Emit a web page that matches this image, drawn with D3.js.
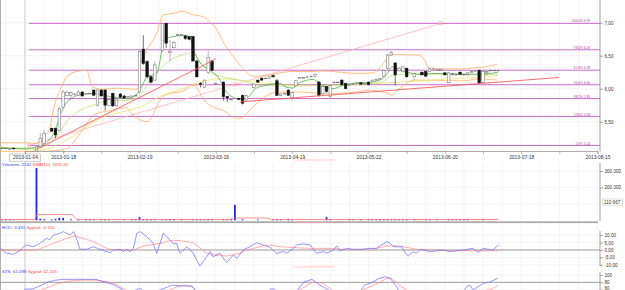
<!DOCTYPE html>
<html>
<head>
<meta charset="utf-8">
<script src="https://cdn.jsdelivr.net/npm/d3@7"></script>
<style>
	body { margin: 0; background: #fff; }
	svg { display: block; font-family: "Liberation Sans", Arial, sans-serif; }
</style>
</head>
<body>
<svg id="chart" width="625" height="290"></svg>
<script>
	// x axis: bar index, labels every 20 sessions
	let dateIdx = [ 0, 10, 30, 50, 70, 90, 110, 130, 150 ];
	let dates = [ '2013-01-04', '2013-01-18', '2013-02-19', '2013-03-19', '2013-04-19', '2013-05-22', '2013-06-20', '2013-07-18', '2013-08-15' ];

	// [ idx, open, high, low, close ]
	let candles = [
		[ -6, 5.10, 5.11, 5.09, 5.10 ], [ -5, 5.10, 5.11, 5.09, 5.10 ], [ -4, 5.09, 5.10, 5.08, 5.09 ], [ -3, 5.10, 5.10, 5.08, 5.09 ],
		[ 3, 5.05, 5.13, 5.04, 5.12 ], [ 4, 5.12, 5.33, 5.11, 5.25 ], [ 5, 5.17, 5.37, 5.16, 5.32 ], [ 7, 5.40, 5.41, 5.35, 5.355 ],
		[ 8, 5.40, 5.41, 5.25, 5.30 ], [ 9, 5.37, 5.72, 5.36, 5.70 ], [ 10, 5.72, 5.98, 5.71, 5.95 ], [ 11, 5.90, 5.96, 5.89, 5.95 ],
		[ 12, 5.90, 5.95, 5.83, 5.94 ], [ 13, 5.91, 5.93, 5.90, 5.92 ], [ 14, 5.90, 5.98, 5.89, 5.95 ], [ 15, 5.95, 5.96, 5.88, 5.89 ],
		[ 16, 5.92, 5.93, 5.91, 5.92 ], [ 17, 5.93, 5.94, 5.92, 5.93 ], [ 18, 5.98, 5.99, 5.90, 5.90 ], [ 19, 5.75, 5.99, 5.73, 5.98 ],
		[ 20, 5.98, 5.99, 5.88, 5.89 ], [ 21, 5.98, 5.99, 5.67, 5.75 ], [ 22, 5.75, 5.85, 5.74, 5.84 ], [ 23, 5.93, 5.94, 5.72, 5.74 ],
		[ 24, 5.74, 5.84, 5.73, 5.83 ], [ 25, 5.92, 5.93, 5.86, 5.87 ], [ 26, 5.89, 5.90, 5.85, 5.86 ], [ 27, 5.87, 5.88, 5.87, 5.88 ],
		[ 28, 5.88, 5.89, 5.87, 5.89 ], [ 29, 5.90, 5.91, 5.89, 5.90 ], [ 30, 5.95, 6.58, 5.93, 6.56 ], [ 31, 6.60, 6.81, 6.36, 6.38 ],
		[ 32, 6.41, 6.43, 6.15, 6.18 ], [ 33, 6.18, 6.20, 6.08, 6.10 ], [ 34, 6.13, 6.41, 6.12, 6.36 ], [ 36, 6.58, 6.99, 6.55, 6.99 ],
		[ 37, 6.99, 6.99, 6.62, 6.69 ], [ 38, 6.55, 6.74, 6.42, 6.57 ], [ 39, 6.62, 6.72, 6.61, 6.70 ], [ 40, 6.81, 6.83, 6.80, 6.82 ],
		[ 41, 6.81, 6.83, 6.80, 6.82 ], [ 42, 6.80, 6.81, 6.74, 6.76 ], [ 43, 6.79, 6.80, 6.74, 6.75 ], [ 44, 6.79, 6.80, 6.41, 6.42 ],
		[ 45, 6.42, 6.43, 6.17, 6.18 ], [ 46, 6.08, 6.10, 6.02, 6.07 ], [ 47, 6.02, 6.14, 6.01, 6.13 ], [ 48, 6.25, 6.57, 6.22, 6.47 ],
		[ 49, 6.42, 6.43, 6.27, 6.28 ], [ 50, 6.07, 6.09, 6.06, 6.08 ], [ 52, 6.10, 6.11, 5.82, 5.88 ], [ 53, 5.88, 5.89, 5.80, 5.86 ],
		[ 54, 5.84, 5.85, 5.83, 5.84 ], [ 56, 5.85, 5.86, 5.83, 5.84 ], [ 57, 5.90, 5.91, 5.76, 5.78 ], [ 58, 5.83, 5.91, 5.82, 5.90 ],
		[ 60, 6.02, 6.08, 6.01, 6.07 ], [ 61, 6.13, 6.14, 6.09, 6.10 ], [ 62, 6.16, 6.17, 6.12, 6.13 ], [ 63, 6.16, 6.17, 6.15, 6.16 ],
		[ 64, 6.16, 6.19, 6.15, 6.18 ], [ 65, 6.20, 6.21, 6.17, 6.18 ], [ 66, 6.12, 6.15, 5.89, 5.90 ], [ 67, 5.90, 5.93, 5.89, 5.92 ],
		[ 68, 5.93, 5.94, 5.92, 5.93 ], [ 69, 5.98, 5.99, 5.89, 5.90 ], [ 70, 5.86, 5.95, 5.83, 5.94 ], [ 71, 6.05, 6.13, 6.04, 6.12 ],
		[ 72, 6.17, 6.18, 6.16, 6.17 ], [ 73, 6.17, 6.18, 6.16, 6.17 ], [ 74, 6.18, 6.19, 6.17, 6.18 ], [ 75, 6.19, 6.20, 6.18, 6.19 ],
		[ 76, 6.19, 6.23, 6.18, 6.22 ], [ 77, 6.10, 6.12, 5.88, 5.90 ], [ 78, 5.92, 6.04, 5.91, 6.03 ], [ 79, 6.03, 6.04, 5.94, 5.96 ],
		[ 80, 5.88, 6.06, 5.86, 6.05 ], [ 81, 6.10, 6.11, 6.09, 6.10 ], [ 82, 6.10, 6.11, 6.09, 6.10 ], [ 83, 6.13, 6.14, 6.05, 6.06 ],
		[ 84, 6.08, 6.09, 5.99, 6.00 ], [ 85, 6.06, 6.07, 6.05, 6.06 ], [ 86, 6.07, 6.09, 6.06, 6.08 ], [ 87, 6.09, 6.10, 6.08, 6.09 ],
		[ 88, 6.09, 6.10, 6.06, 6.07 ], [ 89, 6.08, 6.09, 6.07, 6.08 ], [ 90, 6.10, 6.11, 6.05, 6.06 ], [ 91, 6.11, 6.14, 6.10, 6.13 ],
		[ 92, 6.14, 6.15, 6.13, 6.14 ], [ 93, 6.15, 6.16, 6.14, 6.15 ], [ 94, 6.18, 6.29, 6.17, 6.28 ], [ 95, 6.31, 6.53, 6.30, 6.51 ],
		[ 96, 6.51, 6.57, 6.50, 6.55 ], [ 97, 6.39, 6.40, 6.05, 6.21 ], [ 98, 6.27, 6.33, 6.26, 6.31 ], [ 99, 6.26, 6.34, 6.25, 6.33 ],
		[ 100, 6.31, 6.32, 6.17, 6.18 ], [ 102, 6.18, 6.25, 6.13, 6.23 ], [ 104, 6.25, 6.26, 6.20, 6.21 ], [ 105, 6.26, 6.27, 6.18, 6.19 ],
		[ 106, 6.26, 6.31, 6.25, 6.30 ], [ 107, 6.30, 6.31, 6.29, 6.30 ], [ 108, 6.29, 6.30, 6.28, 6.29 ], [ 109, 6.29, 6.30, 6.28, 6.29 ],
		[ 110, 6.24, 6.25, 6.20, 6.21 ], [ 111, 6.09, 6.25, 6.08, 6.24 ], [ 112, 6.22, 6.24, 6.19, 6.23 ], [ 113, 6.21, 6.23, 6.20, 6.22 ],
		[ 114, 6.25, 6.26, 6.21, 6.22 ], [ 115, 6.21, 6.23, 6.20, 6.22 ], [ 116, 6.22, 6.25, 6.19, 6.24 ], [ 117, 6.26, 6.27, 6.25, 6.26 ],
		[ 118, 6.27, 6.28, 6.26, 6.27 ], [ 119, 6.28, 6.29, 6.07, 6.09 ], [ 120, 6.09, 6.28, 6.08, 6.26 ], [ 121, 6.24, 6.28, 6.20, 6.26 ],
		[ 122, 6.28, 6.29, 6.27, 6.28 ], [ 123, 6.28, 6.29, 6.27, 6.28 ], [ 124, 6.28, 6.29, 6.27, 6.28 ]
	];

	// fibonacci retracement
	let fibPct = [ '100.0%', '78.6%', '61.8%', '50.0%', '38.2%', '23.6%', '0.0%' ];
	let fibVal = [ 6.99, 6.59, 6.28, 6.06, 5.85, 5.58, 5.14 ];
	let fibDiag = [ [ 1, 5.14 ], [ 55, 6.065 ], [ 109, 6.99 ] ];
	let trendRed = [ [ [ 2.6, 5.07 ], [ 50, 6.45 ] ], [ [ 56.3, 5.80 ], [ 139.9, 6.17 ] ] ];

	// overlays [ idx, value ]
	let smaFast = [ [ -6.5, 5.10 ], [ 0, 5.09 ], [ 3.4, 5.12 ], [ 5.7, 5.19 ], [ 7.9, 5.37 ], [ 9.2, 5.60 ], [ 10.9, 5.79 ], [ 12.7, 5.87 ], [ 13.5, 5.90 ], [ 17.9, 5.93 ], [ 22.3, 5.88 ], [ 26.6, 5.85 ], [ 29.6, 5.93 ], [ 30.6, 6.03 ], [ 31.9, 6.18 ], [ 34.5, 6.23 ], [ 35.4, 6.43 ], [ 36.2, 6.72 ], [ 38.8, 6.79 ], [ 42.4, 6.81 ], [ 43.2, 6.77 ], [ 44.5, 6.54 ], [ 45.9, 6.39 ], [ 48.5, 6.28 ], [ 51.1, 6.13 ], [ 52.4, 5.98 ], [ 53.7, 5.90 ], [ 55.5, 5.85 ], [ 57.1, 5.84 ], [ 59, 5.90 ], [ 60.3, 6.00 ], [ 62.9, 6.05 ], [ 66.8, 6.08 ], [ 68.6, 6.02 ], [ 70.2, 6.01 ], [ 72, 6.09 ], [ 75.5, 6.14 ], [ 76.8, 6.10 ], [ 79.1, 6.02 ], [ 80.7, 6.00 ], [ 83.3, 6.05 ], [ 85.9, 6.08 ], [ 89.6, 6.09 ], [ 93, 6.13 ], [ 94.8, 6.22 ], [ 96.2, 6.33 ], [ 97.5, 6.31 ], [ 99, 6.26 ], [ 100.9, 6.24 ], [ 103, 6.22 ], [ 106.6, 6.23 ], [ 110, 6.23 ], [ 113.4, 6.22 ], [ 117.1, 6.22 ], [ 119.7, 6.22 ], [ 123.9, 6.25 ] ];
	let smaMid = [ [ -6.5, 5.11 ], [ 3, 5.10 ], [ 5.7, 5.14 ], [ 9.2, 5.35 ], [ 10.9, 5.50 ], [ 14.4, 5.67 ], [ 17.9, 5.75 ], [ 22.3, 5.82 ], [ 26, 5.82 ], [ 28.3, 5.84 ], [ 30.1, 5.90 ], [ 33.3, 6.16 ], [ 36.2, 6.34 ], [ 38.8, 6.46 ], [ 42.4, 6.53 ], [ 43.8, 6.55 ], [ 45.9, 6.40 ], [ 48.5, 6.25 ], [ 51.1, 6.19 ], [ 54.5, 6.15 ], [ 57.6, 6.11 ], [ 61.5, 6.05 ], [ 66.8, 6.04 ], [ 72, 6.04 ], [ 77.3, 6.05 ], [ 82.5, 6.05 ], [ 87.8, 6.07 ], [ 93, 6.09 ], [ 96.2, 6.20 ], [ 99.5, 6.22 ], [ 106.6, 6.22 ], [ 115, 6.21 ], [ 123.9, 6.22 ] ];
	let smaSlow = [ [ -6.5, 5.12 ], [ 4, 5.07 ], [ 9.2, 5.17 ], [ 14.4, 5.35 ], [ 19.7, 5.55 ], [ 24.9, 5.64 ], [ 30.1, 5.72 ], [ 35.4, 5.88 ], [ 40.6, 5.99 ], [ 45.9, 6.10 ], [ 51.1, 6.15 ], [ 57.6, 6.12 ], [ 63.4, 6.08 ], [ 72, 6.05 ], [ 80.7, 6.05 ], [ 89.6, 6.07 ], [ 98.3, 6.10 ], [ 106.6, 6.13 ], [ 115.3, 6.16 ], [ 123.9, 6.20 ] ];
	let bbUp = [ [ -6.5, 5.18 ], [ 0, 5.18 ], [ 3, 5.17 ], [ 4.8, 5.27 ], [ 6.5, 5.40 ], [ 7.4, 5.67 ], [ 9.6, 6.03 ], [ 10.9, 6.18 ], [ 13.5, 6.26 ], [ 16.2, 6.28 ], [ 17, 6.13 ], [ 17.9, 6.02 ], [ 20.5, 5.99 ], [ 24, 6.01 ], [ 28.4, 5.99 ], [ 29.6, 6.00 ], [ 30.1, 6.33 ], [ 31.9, 6.58 ], [ 34.5, 6.84 ], [ 36.2, 7.12 ], [ 38.9, 7.14 ], [ 41.1, 7.17 ], [ 44.1, 7.12 ], [ 46.7, 7.09 ], [ 48.5, 7.01 ], [ 50.3, 6.89 ], [ 51.9, 6.71 ], [ 54.5, 6.49 ], [ 57.1, 6.31 ], [ 59.7, 6.19 ], [ 63.4, 6.20 ], [ 66.8, 6.24 ], [ 69.4, 6.26 ], [ 75.5, 6.26 ], [ 77.3, 6.27 ], [ 80.7, 6.26 ], [ 84.4, 6.24 ], [ 87.8, 6.23 ], [ 91.2, 6.24 ], [ 93.8, 6.38 ], [ 95.6, 6.51 ], [ 98.3, 6.52 ], [ 100.9, 6.51 ], [ 103, 6.51 ], [ 104.8, 6.42 ], [ 105.6, 6.32 ], [ 110, 6.30 ], [ 114.5, 6.30 ], [ 117.9, 6.32 ], [ 120.5, 6.33 ], [ 123.7, 6.37 ] ];
	let bbLow = [ [ -6.5, 5.05 ], [ 4.7, 5.05 ], [ 10.9, 5.09 ], [ 14.4, 5.32 ], [ 16.2, 5.47 ], [ 17.9, 5.60 ], [ 22.3, 5.67 ], [ 26.6, 5.71 ], [ 28.3, 5.60 ], [ 30.1, 5.53 ], [ 31.9, 5.50 ], [ 33.3, 5.58 ], [ 34.6, 5.75 ], [ 36.2, 5.88 ], [ 38, 5.93 ], [ 40.6, 5.95 ], [ 42.4, 6.00 ], [ 43.8, 6.05 ], [ 45, 6.02 ], [ 46.6, 5.85 ], [ 48.5, 5.75 ], [ 50.3, 5.70 ], [ 51.9, 5.67 ], [ 53.7, 5.60 ], [ 55.5, 5.55 ], [ 57.1, 5.57 ], [ 59, 5.68 ], [ 61.6, 5.82 ], [ 64.2, 5.92 ], [ 66.8, 5.95 ], [ 72, 5.95 ], [ 77.3, 5.93 ], [ 82.5, 5.93 ], [ 87, 5.95 ], [ 90.4, 5.98 ], [ 92.5, 5.96 ], [ 95.1, 5.93 ], [ 96.2, 5.90 ], [ 97, 5.95 ], [ 98.8, 6.03 ], [ 100.3, 6.10 ], [ 102.2, 6.13 ], [ 106.6, 6.13 ], [ 110.8, 6.12 ], [ 115.3, 6.12 ], [ 118.7, 6.15 ], [ 123.7, 6.13 ] ];

	// volume [ idx, shares ]
	let volume = [ [ -6, 5000 ], [ -5, 5000 ], [ -4, 5000 ], [ -3, 5000 ], [ 3, 318000 ], [ 4, 9000 ], [ 5, 6000 ], [ 7, 5000 ], [ 8, 9000 ], [ 9, 15000 ], [ 10, 15000 ], [ 12, 6000 ], [ 14, 5000 ], [ 16, 6000 ], [ 17, 6000 ], [ 18, 6000 ], [ 20, 5000 ], [ 21, 6000 ], [ 22, 6000 ], [ 26, 5000 ], [ 28, 6000 ], [ 29, 6000 ], [ 30, 19000 ], [ 31, 7000 ], [ 32, 6000 ], [ 33, 6000 ], [ 34, 6000 ], [ 36, 6000 ], [ 37, 6000 ], [ 38, 8000 ], [ 39, 6000 ], [ 41, 6000 ], [ 44, 5000 ], [ 45, 6000 ], [ 46, 6000 ], [ 47, 5000 ], [ 48, 8000 ], [ 49, 6000 ], [ 52, 6000 ], [ 53, 6000 ], [ 54, 9000 ], [ 55, 94000 ], [ 57, 6000 ], [ 61, 5000 ], [ 65, 5000 ], [ 66, 6000 ], [ 67, 6000 ], [ 69, 9000 ], [ 70, 6000 ], [ 79, 19000 ], [ 80, 6000 ], [ 85, 5000 ], [ 86, 5000 ], [ 88, 5000 ], [ 90, 6000 ], [ 91, 6000 ], [ 92, 6000 ], [ 93, 7000 ], [ 94, 8000 ], [ 95, 7000 ], [ 96, 6000 ], [ 97, 6000 ], [ 98, 6000 ], [ 99, 5000 ], [ 100, 6000 ], [ 102, 6000 ], [ 105, 5000 ], [ 106, 5000 ], [ 108, 5000 ], [ 111, 5000 ], [ 112, 5000 ], [ 113, 6000 ], [ 114, 6000 ], [ 115, 6000 ], [ 116, 6000 ], [ 120, 5000 ] ];
	let volSma = [ [ -6.5, 5000 ], [ 2.6, 5000 ], [ 3, 35000 ], [ 12.3, 35000 ], [ 13.6, 5000 ], [ 54.5, 5000 ], [ 54.8, 14000 ], [ 63.4, 14000 ], [ 64.6, 5000 ], [ 124, 5000 ] ];

	// ROC and signal
	let roc = [ [ -6.5, 1.1 ], [ -4.8, -2.2 ], [ -3.1, -2.9 ], [ -1.3, -0.5 ], [ -0.4, 2.2 ], [ 0.4, 3.4 ], [ 2.2, 2.2 ], [ 3.9, 4.5 ], [ 5.7, 7.9 ], [ 6.5, 6.8 ], [ 7.4, 10.1 ], [ 9.2, 11.3 ], [ 10, 12.4 ], [ 11.8, 10.1 ], [ 12.7, 12.4 ], [ 13.5, 7.9 ], [ 14.4, 0.5 ], [ 16.2, 0.5 ], [ 17.9, 2.2 ], [ 19.6, 0.5 ], [ 21.4, -1.1 ], [ 22.3, -1.8 ], [ 23.1, 0 ], [ 24.9, 0.5 ], [ 25.8, -1.1 ], [ 26.6, 0.5 ], [ 27.5, -1.1 ], [ 28.4, 1.1 ], [ 29.3, 11.3 ], [ 30.1, 12.4 ], [ 31.9, 9.0 ], [ 33.6, 4.5 ], [ 34.5, -2.2 ], [ 35.4, 4.5 ], [ 36.2, 11.3 ], [ 38, 6.8 ], [ 38.9, 4.1 ], [ 39.7, 4.5 ], [ 40.6, -2.2 ], [ 42.4, 2.2 ], [ 44.1, -2.2 ], [ 45, -6.8 ], [ 45.8, -10.8 ], [ 46.7, -7.9 ], [ 48.5, -1.1 ], [ 49.3, -4.5 ], [ 51.1, -2.2 ], [ 52.8, -8.6 ], [ 54.6, -3.4 ], [ 55.5, -5.6 ], [ 57.2, 0 ], [ 58.9, 2.2 ], [ 60.7, 4.9 ], [ 62.4, 3.4 ], [ 64.2, 1.8 ], [ 65.9, -2.2 ], [ 67.7, -1.1 ], [ 68.6, -2.2 ], [ 70.3, 1.1 ], [ 71.2, 3.4 ], [ 72.9, 4.1 ], [ 74.7, 3.4 ], [ 76.4, -2.2 ], [ 78.2, -1.1 ], [ 79, -2.2 ], [ 79.9, -1.1 ], [ 80.8, 0 ], [ 81.7, 2.7 ], [ 82.5, -0.5 ], [ 84.3, 1.1 ], [ 86, 0.5 ], [ 87.8, 0.5 ], [ 90.4, 1.1 ], [ 92.1, 1.1 ], [ 93, 2.7 ], [ 93.9, 4.1 ], [ 94.8, 5.6 ], [ 95.6, 4.9 ], [ 96.5, 2.2 ], [ 98.7, 2.2 ], [ 99.6, -1.8 ], [ 100.4, -4.1 ], [ 101.7, -1.1 ], [ 102.6, -2.2 ], [ 103.5, 0.5 ], [ 106.1, -1.1 ], [ 109.6, 0 ], [ 111.3, -1.1 ], [ 114.8, 0 ], [ 117.4, 1.1 ], [ 118.7, -1.6 ], [ 120, 1.1 ], [ 122.6, 0 ], [ 124, 3.4 ] ];
	let rocSig = [ [ -6.5, 0 ], [ 3.1, 0 ], [ 7.4, 4.5 ], [ 10.9, 7.9 ], [ 13.1, 9.5 ], [ 15.3, 7.9 ], [ 17.9, 5.6 ], [ 19.6, 3.4 ], [ 21.4, 1.1 ], [ 23.1, 0 ], [ 28.4, 0 ], [ 31, 2.7 ], [ 35.4, 4.5 ], [ 38, 6.3 ], [ 40.6, 6.3 ], [ 44.1, 4.9 ], [ 45.8, 1.4 ], [ 47.6, -2.2 ], [ 50.2, -3.4 ], [ 52.8, -4.1 ], [ 56.3, -2.2 ], [ 58.1, 0 ], [ 62.4, 2.7 ], [ 64.2, 3.4 ], [ 66.8, 2.2 ], [ 72, 1.4 ], [ 74.7, 1.1 ], [ 79.9, 1.1 ], [ 83.3, 0.5 ], [ 87.8, 0 ], [ 92.1, 1.1 ], [ 94.8, 2.7 ], [ 97.4, 2.7 ], [ 100, 1.8 ], [ 102.6, 0.5 ], [ 106.1, 0 ], [ 114, -0.5 ], [ 120, -0.5 ], [ 124, -0.5 ] ];

	// stochastic and signal
	let sts = [ [ -6.5, 35 ], [ -1.3, 48 ], [ 0, 61 ], [ 2, 62 ], [ 3.9, 70 ], [ 6, 81 ], [ 8.1, 86 ], [ 10.2, 88 ], [ 14.4, 88 ], [ 18.6, 88 ], [ 20.7, 81 ], [ 22.8, 75 ], [ 24.9, 64 ], [ 27, 48 ], [ 29.1, 59 ], [ 30.1, 64 ], [ 31.7, 50 ], [ 33.5, 52 ], [ 35.4, 59 ], [ 38.5, 72 ], [ 41.7, 70 ], [ 43.8, 70 ], [ 45.8, 40 ], [ 49, 20 ], [ 53, 10 ], [ 57, 15 ], [ 61, 30 ], [ 64.7, 64 ], [ 67, 50 ], [ 71, 53 ], [ 73.1, 81 ], [ 75.2, 88 ], [ 77.3, 72 ], [ 79.4, 60 ], [ 81.5, 42 ], [ 84, 30 ], [ 87, 45 ], [ 89, 72 ], [ 91, 80 ], [ 92.6, 90 ], [ 94.3, 95 ], [ 95.6, 92 ], [ 96.9, 75 ], [ 98.2, 53 ], [ 101, 35 ], [ 105, 25 ], [ 110, 30 ], [ 114, 40 ], [ 115.7, 68 ], [ 116.6, 72 ], [ 117.4, 59 ], [ 120.1, 77 ], [ 121.8, 81 ], [ 123.9, 91 ] ];
	let stsSig = [ [ -6.5, 38 ], [ 0, 42 ], [ 3, 52 ], [ 5, 62 ], [ 8.1, 75 ], [ 11.3, 83 ], [ 14.4, 86 ], [ 18.6, 86 ], [ 20.7, 83 ], [ 23.9, 75 ], [ 26, 61 ], [ 28, 47 ], [ 31.2, 45 ], [ 35.4, 47 ], [ 39.6, 67 ], [ 42.2, 72 ], [ 43.8, 67 ], [ 45.8, 47 ], [ 50, 25 ], [ 56, 15 ], [ 62, 20 ], [ 67, 40 ], [ 71, 53 ], [ 75.2, 80 ], [ 78, 78 ], [ 79.4, 67 ], [ 81.5, 50 ], [ 85, 40 ], [ 87.8, 56 ], [ 92, 75 ], [ 95, 92 ], [ 96.2, 90 ], [ 98.3, 70 ], [ 102, 45 ], [ 108, 30 ], [ 114, 35 ], [ 117.1, 47 ], [ 120, 56 ], [ 122.3, 62 ], [ 124, 72 ] ];

	let priceTicks = [ 5.5, 6, 6.5, 7 ], volTicks = [ 200000, 300000 ], rocTicks = [ -10, -5, 0, 5, 10 ], stsTicks = [ 60, 80, 100 ];

	( function( d3 ) {
		const W = 625, H = 290, AX = 600;
		let svg = d3.select( '#chart' );
		let loc = d3.formatLocale( { decimal: ',', thousands: ' ', grouping: [ 3 ], currency: [ '', '' ], minus: '-' } );

		let x = d3.scaleLinear().domain( [ 0, 150 ] ).range( [ 25, 597.5 ] ),
			yP = d3.scaleLinear().domain( [ 5.5, 7 ] ).range( [ 121.7, 22.7 ] ),
			yV = d3.scaleLinear().domain( [ 0, 300000 ] ).range( [ 220.3, 171 ] ),
			yR = d3.scaleLinear().domain( [ -10, 10 ] ).range( [ 264.8, 235.2 ] ),
			yS = d3.scaleLinear().domain( [ 60, 100 ] ).range( [ 289.6, 275 ] );

		let panels = [
			{ top: 0, bottom: 151, y: yP, ticks: priceTicks },
			{ top: 162, bottom: 221, y: yV, ticks: [ 100000, 200000, 300000 ] },
			{ top: 223.5, bottom: 267, y: yR, ticks: [ -10, -5, 5, 10 ] },
			{ top: 267, bottom: H, y: yS, ticks: [ 60, 100 ] }
		];

		// grid
		let grid = svg.append( 'g' ).attr( 'stroke', '#ececec' ).attr( 'stroke-width', 0.6 );
		panels.forEach( p => {
			d3.range( -5, 151, 5 ).forEach( i => {
				grid.append( 'line' ).attr( 'x1', x( i ) ).attr( 'x2', x( i ) ).attr( 'y1', p.top ).attr( 'y2', p.bottom );
			} );
			p.ticks.forEach( t => {
				grid.append( 'line' ).attr( 'x1', 0 ).attr( 'x2', AX ).attr( 'y1', p.y( t ) ).attr( 'y2', p.y( t ) );
			} );
		} );

		// crosshair
		svg.append( 'line' ).attr( 'x1', x( 0 ) ).attr( 'x2', x( 0 ) ).attr( 'y1', 0 ).attr( 'y2', H )
			.attr( 'stroke', '#d0d0d0' ).attr( 'stroke-width', 1 );

		// frame lines
		svg.append( 'line' ).attr( 'x1', 0.5 ).attr( 'x2', 0.5 ).attr( 'y1', 0 ).attr( 'y2', H ).attr( 'stroke', '#999' ).attr( 'stroke-width', 0.8 );
		svg.append( 'rect' ).attr( 'x', 0 ).attr( 'y', 221.3 ).attr( 'width', AX - 2 ).attr( 'height', 1.8 ).attr( 'fill', '#aaa' );
		svg.append( 'line' ).attr( 'x1', 0 ).attr( 'x2', AX ).attr( 'y1', yR( 0 ) ).attr( 'y2', yR( 0 ) ).attr( 'stroke', '#999' ).attr( 'stroke-width', 1 );
		svg.append( 'line' ).attr( 'x1', 0 ).attr( 'x2', AX ).attr( 'y1', yS( 80 ) ).attr( 'y2', yS( 80 ) ).attr( 'stroke', '#999' ).attr( 'stroke-width', 1 );
		[ 160, 222.6, 266.8 ].forEach( yy => {
			svg.append( 'line' ).attr( 'x1', 294 ).attr( 'x2', 334 ).attr( 'y1', yy ).attr( 'y2', yy )
				.attr( 'stroke', '#f2a0a0' ).attr( 'stroke-width', 0.8 ).attr( 'stroke-dasharray', '1.2 0.8' );
		} );

		// fibonacci levels
		let fib = svg.append( 'g' );
		fibVal.forEach( ( v, i ) => {
			fib.append( 'line' ).attr( 'x1', x( fibDiag[ 0 ][ 0 ] ) ).attr( 'x2', AX ).attr( 'y1', yP( v ) ).attr( 'y2', yP( v ) )
				.attr( 'stroke', '#cc6acc' ).attr( 'stroke-width', 1 );
			fib.append( 'text' ).attr( 'x', 590 ).attr( 'y', yP( v ) - 0.9 ).attr( 'text-anchor', 'end' )
				.style( 'font-size', '3.2px' ).attr( 'fill', '#a040a0' ).text( fibPct[ i ] + ' ' + v.toFixed( 2 ) );
		} );

		let line = ( ys, curve ) => d3.line().x( d => x( d[ 0 ] ) ).y( d => ys( d[ 1 ] ) ).curve( curve || d3.curveLinear );
		let drawLine = ( data, ys, color, w, curve ) => svg.append( 'path' ).datum( data ).attr( 'd', line( ys, curve ) )
			.attr( 'fill', 'none' ).attr( 'stroke', color ).attr( 'stroke-width', w );

		// fib diagonal with handles
		drawLine( fibDiag, yP, '#ffb4b4', 0.8 );
		svg.append( 'g' ).selectAll( 'rect' ).data( fibDiag ).enter().append( 'rect' )
			.attr( 'x', d => x( d[ 0 ] ) - 1.5 ).attr( 'y', d => yP( d[ 1 ] ) - 1.5 ).attr( 'width', 3 ).attr( 'height', 3 )
			.attr( 'fill', 'none' ).attr( 'stroke', '#f4a0a0' ).attr( 'stroke-width', 0.6 );

		// bollinger + moving averages
		drawLine( bbUp, yP, '#ffad66', 0.8, d3.curveMonotoneX );
		drawLine( bbLow, yP, '#ffad66', 0.8, d3.curveMonotoneX );
		drawLine( smaSlow, yP, '#ece36a', 0.8, d3.curveMonotoneX );
		drawLine( smaMid, yP, '#bfe07a', 0.8, d3.curveMonotoneX );
		drawLine( smaFast, yP, '#4caf4c', 0.8, d3.curveMonotoneX );

		// candles
		let cg = svg.append( 'g' ).selectAll( 'g' ).data( candles ).enter().append( 'g' );
		cg.append( 'line' )
			.attr( 'x1', d => x( d[ 0 ] ) ).attr( 'x2', d => x( d[ 0 ] ) )
			.attr( 'y1', d => yP( d[ 2 ] ) ).attr( 'y2', d => yP( d[ 3 ] ) )
			.attr( 'stroke', d => d[ 4 ] >= d[ 1 ] ? '#888' : '#111' ).attr( 'stroke-width', 0.6 );
		cg.append( 'rect' )
			.attr( 'x', d => x( d[ 0 ] ) - 1.3 ).attr( 'width', 2.6 )
			.attr( 'y', d => yP( Math.max( d[ 1 ], d[ 4 ] ) ) )
			.attr( 'height', d => Math.max( 0.7, Math.abs( yP( d[ 1 ] ) - yP( d[ 4 ] ) ) ) )
			.attr( 'fill', d => d[ 4 ] >= d[ 1 ] ? '#fff' : '#111' )
			.attr( 'stroke', d => d[ 4 ] >= d[ 1 ] ? '#666' : '#111' ).attr( 'stroke-width', 0.5 );

		// trend lines
		trendRed.forEach( t => drawLine( t, yP, '#ff5a5a', 0.9 ) );

		// volume
		svg.append( 'g' ).selectAll( 'rect' ).data( volume ).enter().append( 'rect' )
			.attr( 'x', d => x( d[ 0 ] ) - 0.9 ).attr( 'width', 1.8 )
			.attr( 'y', d => yV( d[ 1 ] ) ).attr( 'height', d => yV( 0 ) - yV( d[ 1 ] ) )
			.attr( 'fill', '#2424ff' );
		drawLine( volSma, yV, '#ff7070', 0.8 );

		// oscillators
		drawLine( rocSig, yR, '#ff8a8a', 0.7 );
		drawLine( roc, yR, '#6a6aff', 0.7 );
		drawLine( stsSig, yS, '#ff8a8a', 0.7 );
		drawLine( sts, yS, '#6a6aff', 0.7 );

		// date axis
		svg.append( 'rect' ).attr( 'x', 9.5 ).attr( 'y', 154 ).attr( 'width', 31 ).attr( 'height', 7.2 )
			.attr( 'fill', '#fff' ).attr( 'stroke', '#aaa' ).attr( 'stroke-width', 0.6 );
		let xa = svg.append( 'g' ).attr( 'transform', 'translate(0,151)' )
			.call( d3.axisBottom( x ).tickValues( d3.range( 0, 151, 10 ) ).tickSize( 3 ).tickFormat( '' ) );
		xa.select( '.domain' ).attr( 'stroke', '#999' ).attr( 'stroke-width', 0.8 );
		xa.selectAll( '.tick line' ).attr( 'stroke', '#888' ).attr( 'stroke-width', 0.6 );
		let xl = svg.append( 'g' ).attr( 'transform', 'translate(0,151)' )
			.call( d3.axisBottom( x ).tickValues( dateIdx ).tickSize( 0 ).tickPadding( 5 ).tickFormat( ( d, i ) => dates[ i ] ) );
		xl.select( '.domain' ).remove();
		xl.selectAll( 'text' ).style( 'font-size', '4.9px' ).attr( 'fill', '#333' ).style( 'font-family', '"Liberation Sans", Arial, sans-serif' );

		// right axes
		let rightAxis = ( ys, vals, fmt, y0, y1 ) => {
			svg.append( 'line' ).attr( 'x1', AX ).attr( 'x2', AX ).attr( 'y1', y0 ).attr( 'y2', y1 ).attr( 'stroke', '#888' ).attr( 'stroke-width', 0.8 );
			let a = svg.append( 'g' ).attr( 'transform', 'translate(' + AX + ',0)' )
				.call( d3.axisRight( ys ).tickValues( vals ).tickSize( 3 ).tickPadding( 1.5 ).tickFormat( fmt ) );
			a.select( '.domain' ).remove();
			a.selectAll( '.tick line' ).attr( 'stroke', '#666' ).attr( 'stroke-width', 0.6 );
			a.selectAll( 'text' ).style( 'font-size', '4.6px' ).attr( 'fill', '#333' ).style( 'font-family', '"Liberation Sans", Arial, sans-serif' );
			return a;
		};
		rightAxis( yP, priceTicks, loc.format( ',.2f' ), 0, 151.5 );
		rightAxis( yV, volTicks, loc.format( ',d' ), 163, 221 );
		rightAxis( yR, rocTicks, loc.format( ',.2f' ), 231, 266 );
		let sa = rightAxis( yS, stsTicks, loc.format( 'd' ), 272, H );
		// keep the lowest label inside the frame
		sa.selectAll( 'text' ).filter( d => d === 60 ).attr( 'dy', '0.05em' );

		// crosshair value on volume axis
		svg.append( 'rect' ).attr( 'x', 602.5 ).attr( 'y', yV( 110667 ) - 3.2 ).attr( 'width', 20 ).attr( 'height', 6.4 )
			.attr( 'fill', '#fff' ).attr( 'stroke', '#999' ).attr( 'stroke-width', 0.5 ).attr( 'stroke-dasharray', '1 0.6' );
		svg.append( 'text' ).attr( 'x', 604 ).attr( 'y', yV( 110667 ) + 1.6 ).style( 'font-size', '4.6px' ).attr( 'fill', '#333' )
			.text( loc.format( ',d' )( 110667 ) );

		// panel legends
		let legend = ( y, a, b ) => {
			let t = svg.append( 'text' ).attr( 'x', 2 ).attr( 'y', y ).style( 'font-size', '4.4px' );
			t.append( 'tspan' ).attr( 'fill', '#3a3aff' ).text( a );
			t.append( 'tspan' ).attr( 'fill', '#ff4a4a' ).text( ' ' + b );
		};
		legend( 166.3, 'Volumen: 2242', 'SMA(10): 1851.40' );
		legend( 229, 'ROC: 3.491', 'Sygnał: -0.555' );
		legend( 272.6, 'STS: 61.098', 'Sygnał: 42.205' );
	} )( d3 );
</script>
</body>
</html>
